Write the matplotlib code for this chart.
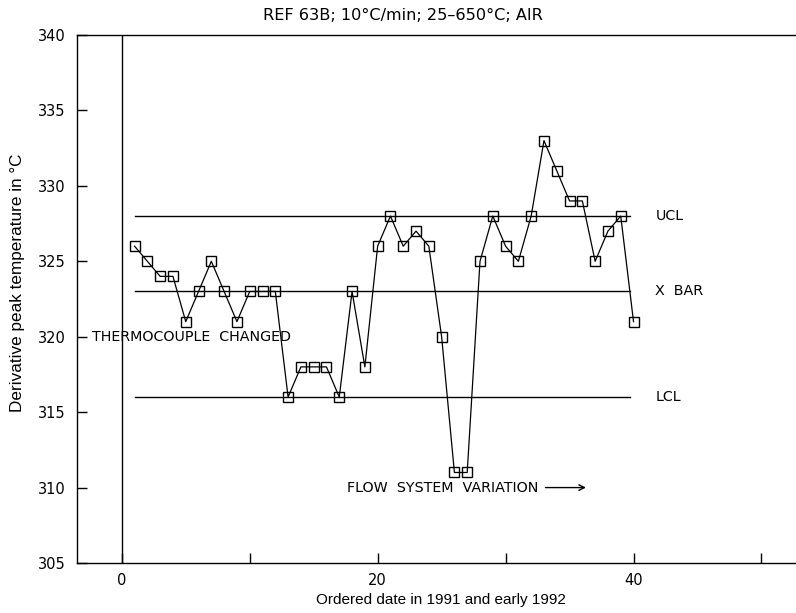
import matplotlib
matplotlib.use("Agg")
import matplotlib.pyplot as plt

# Data
order = list(range(1, 41))
peak_temp = [326, 325, 324, 324, 321, 323, 325, 323, 321, 323,
             323, 323, 316, 318, 318, 318, 316, 323, 318, 326,
             328, 326, 327, 326, 320, 311, 311, 325, 328, 326,
             325, 328, 333, 331, 329, 329, 325, 327, 328, 321]
ucl = 328
xbar = 323
lcl = 316
limit_labels = ["UCL", "X  BAR", "LCL"]
x_ticks = [0, 10, 20, 30, 40, 50]
x_tick_labels = ["0", "", "20", "", "40", ""]
y_ticks = [305, 310, 315, 320, 325, 330, 335, 340]

fig = plt.figure(figsize=(7.96, 6.13), dpi=100)
ax = fig.add_axes([77/796, 1-563/613, 1-77/796, (563-35)/613])

ax.set_xlim(-3.5, 52.7)
ax.set_ylim(305, 340)

ax.axvline(0, color="black", lw=1.0)
for val in (ucl, xbar, lcl):
    ax.plot([1, 39.7], [val, val], color="black", lw=1.0)

ax.plot(order, peak_temp, color="black", lw=0.9, marker="s", ms=7,
        mfc="none", mec="black", mew=1.0)

for val, lab in zip((ucl, xbar, lcl), limit_labels):
    ax.text(41.7, val, lab, ha="left", va="center", fontsize=10.3,
            family="DejaVu Sans")

ax.text(-2.3, 320, "THERMOCOUPLE  CHANGED", ha="left", va="center",
        fontsize=10.3, family="DejaVu Sans")
ax.text(17.6, 310, "FLOW  SYSTEM  VARIATION", ha="left", va="center",
        fontsize=10.3, family="DejaVu Sans")
ax.annotate("", xy=(36.5, 310), xytext=(32.9, 310),
            arrowprops=dict(arrowstyle="->", color="black", lw=1.0))

ax.spines["right"].set_visible(False)
for s in ("left", "top", "bottom"):
    ax.spines[s].set_linewidth(1.0)

ax.set_xticks(x_ticks)
ax.set_xticklabels(x_tick_labels)
ax.set_yticks(y_ticks)
ax.tick_params(axis="both", direction="in", length=7, width=1.0,
               labelsize=10.5)
ax.tick_params(axis="x", pad=7)
ax.tick_params(axis="y", pad=8)
for lbl in ax.get_xticklabels() + ax.get_yticklabels():
    lbl.set_family("DejaVu Sans")

ax.set_xlabel("Ordered date in 1991 and early 1992", fontsize=11,
              family="Liberation Sans")
ax.set_ylabel("Derivative peak temperature in °C", fontsize=12.3,
              family="Liberation Sans")
ax.xaxis.set_label_coords((441-77)/(796-77), -(593-563)/528)
ax.yaxis.set_label_coords(-(77-25)/(796-77), (563-283)/528)

fig.text(403/796, 1-15/613, "REF 63B; 10°C/min; 25\u2013650°C; AIR",
         ha="center", va="center", fontsize=11.6, family="DejaVu Sans")

fig.savefig("out.png", dpi=100)
